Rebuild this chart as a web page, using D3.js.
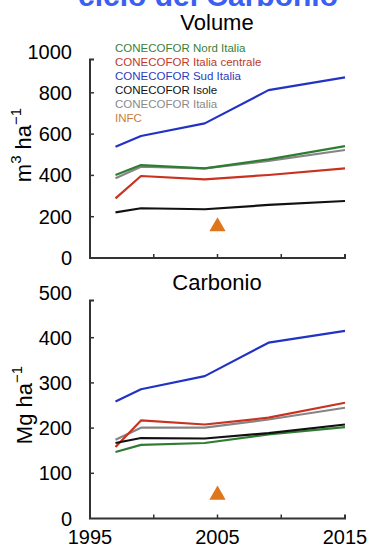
<!DOCTYPE html>
<html><head><meta charset="utf-8">
<script src="https://cdn.jsdelivr.net/npm/d3@7"></script>
<style>body{margin:0;background:#fff;}svg{display:block;font-family:"Liberation Sans",Arial,sans-serif;}</style>
</head><body>
<svg id="c" width="370" height="546"></svg>
<script>
const years = [1997, 1999, 2004, 2009, 2015];
const seriesNames = ["CONECOFOR Nord Italia","CONECOFOR Italia centrale","CONECOFOR Sud Italia","CONECOFOR Isole","CONECOFOR Italia","INFC"];
const seriesColors = ["#2f7d32","#c8321e","#2233c4","#111111","#858585","#e0761c"];
const legendColors = ["#3a7f3a","#c0392b","#2a3cc0","#111111","#8a8a8a","#c8803a"];
const volNord = [402, 450, 434, 478, 542];
const volCentrale = [289, 397, 381, 402, 434];
const volSud = [539, 591, 652, 813, 875];
const volIsole = [221, 241, 236, 257, 276];
const volItalia = [386, 442, 434, 470, 523];
const infcYear = 2005;
const volINFC = 152;
const carbNord = [147, 163, 167, 186, 202];
const carbCentrale = [158, 217, 208, 223, 256];
const carbSud = [259, 286, 315, 389, 415];
const carbIsole = [167, 178, 177, 189, 208];
const carbItalia = [174, 201, 201, 219, 245];
const carbINFC = 52;
const volTicks = [0, 200, 400, 600, 800, 1000];
const carbTicks = [0, 100, 200, 300, 400, 500];
const xTicks = [1995, 2000, 2005, 2010, 2015];
const xLabels = [1995, 2005, 2015];

const svg = d3.select("#c");
const x = d3.scaleLinear().domain([1995, 2015]).range([90, 345]);

// top title (cut)
svg.append("text").attr("x", 208).attr("y", 6).attr("text-anchor", "middle")
  .attr("font-size", 30).attr("font-weight", "bold").attr("fill", "#3b5ff2")
  .text("ciclo del Carbonio");

function panel(opts) {
  const y = d3.scaleLinear().domain([0, opts.max]).range([opts.y0, opts.y1]);
  const g = svg.append("g");
  g.append("text").attr("x", 217).attr("y", opts.titleY).attr("text-anchor", "middle")
    .attr("font-size", 22).attr("fill", "#000").text(opts.title);
  const axTop = y(opts.max) + 8;
  g.append("path").attr("d", `M${x(1995)+4},${axTop}H${x(1995)}V${y(0)}H${x(2015)}V${y(0)-4}`)
    .attr("fill", "none").attr("stroke", "#333").attr("stroke-width", 2);
  opts.ticks.forEach(t => {
    if (t > 0 && t < opts.max) {
      g.append("line").attr("x1", x(1995)).attr("x2", x(1995) + 4).attr("y1", y(t)).attr("y2", y(t))
        .attr("stroke", "#333").attr("stroke-width", 1.5);
    }
    g.append("text").attr("x", 72).attr("y", y(t) + 7).attr("text-anchor", "end")
      .attr("font-size", 20).attr("fill", "#000").text(t);
  });
  xTicks.slice(1, -1).forEach(t => {
    g.append("line").attr("x1", x(t)).attr("x2", x(t)).attr("y1", y(0)).attr("y2", y(0) - 4)
      .attr("stroke", "#333").attr("stroke-width", 1.5);
  });
  const yl = g.append("text").attr("transform", `translate(${opts.ylx},${opts.yly}) rotate(-90)`)
    .attr("text-anchor", "middle").attr("font-size", 22).attr("fill", "#000");
  opts.ylabel(yl);
  const line = d3.line().x((d, i) => x(years[i])).y(d => y(d));
  const order = [4, 0, 1, 3, 2];
  order.forEach(k => {
    g.append("path").datum(opts.data[k]).attr("d", line).attr("fill", "none")
      .attr("stroke", seriesColors[k]).attr("stroke-width", 2.2).attr("stroke-linejoin", "round");
  });
  g.append("path").attr("d", d3.symbol().type(d3.symbolTriangle).size(115)())
    .attr("transform", `translate(${x(infcYear)},${y(opts.infc)})`).attr("fill", seriesColors[5]);
  return y;
}

panel({
  title: "Volume", titleY: 30, max: 1000, y0: 258, y1: 51.5, ticks: volTicks,
  data: [volNord, volCentrale, volSud, volIsole, volItalia], infc: volINFC,
  ylx: 31, yly: 145,
  ylabel: t => { t.append("tspan").text("m"); t.append("tspan").attr("font-size", 15).attr("dy", -10).text("3");
    t.append("tspan").attr("dy", 10).text(" ha"); t.append("tspan").attr("font-size", 15).attr("dy", -10).text("\u22121"); }
});
panel({
  title: "Carbonio", titleY: 290, max: 500, y0: 518.5, y1: 292.5, ticks: carbTicks,
  data: [carbNord, carbCentrale, carbSud, carbIsole, carbItalia], infc: carbINFC,
  ylx: 32, yly: 405,
  ylabel: t => { t.append("tspan").text("Mg ha"); t.append("tspan").attr("font-size", 15).attr("dy", -10).text("\u22121"); }
});

xLabels.forEach(t => {
  svg.append("text").attr("x", x(t)).attr("y", 544).attr("text-anchor", "middle")
    .attr("font-size", 20).attr("fill", "#000").text(t);
});

const leg = svg.append("g");
seriesNames.forEach((n, i) => {
  leg.append("text").attr("x", 115).attr("y", 52 + i * 14).attr("font-size", 11.5)
    .attr("fill", legendColors[i]).text(n);
});
</script>
</body></html>
